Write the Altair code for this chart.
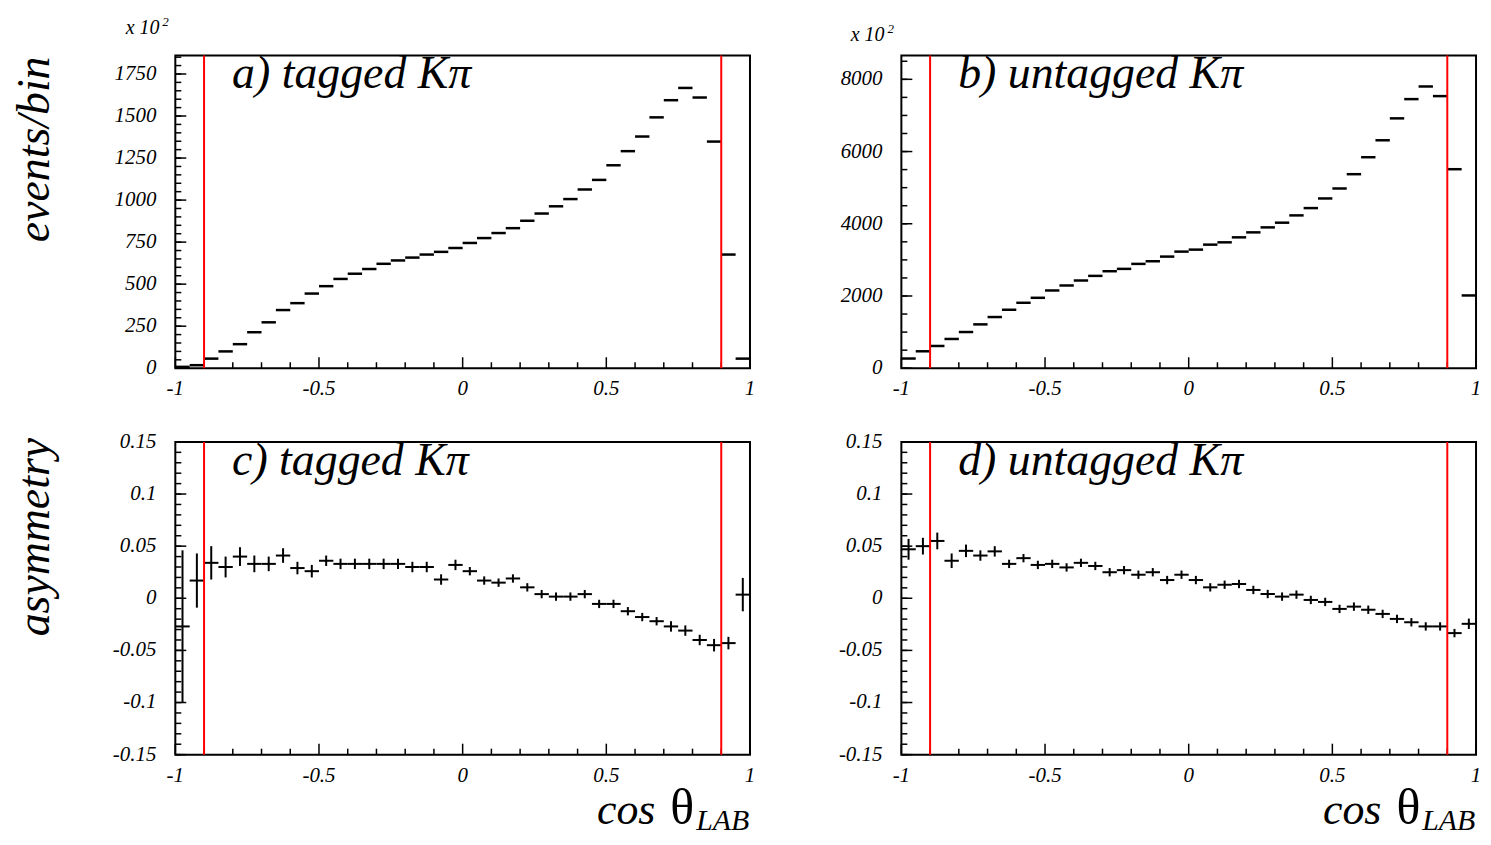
import altair as alt
import numpy as np
import pandas as pd

# ---------------- data ----------------
bin_edges = np.round(np.linspace(-1.0, 1.0, 41), 4)   # 40 bins of cos(theta_LAB)
bin_lo = bin_edges[:-1]
bin_hi = bin_edges[1:]
bin_mid = np.round((bin_lo + bin_hi) / 2, 4)

tagged_counts = [8, 18, 57, 100, 143, 214, 273, 346, 387, 444, 488, 531, 562, 590,
                 621, 641, 658, 676, 692, 715, 745, 774, 804, 833, 877, 920, 963,
                 1006, 1063, 1120, 1207, 1291, 1378, 1492, 1594, 1667, 1610, 1348,
                 676, 57]
untagged_counts = [268, 469, 616, 810, 1002, 1214, 1417, 1619, 1812, 1950, 2153,
                   2291, 2429, 2557, 2686, 2751, 2889, 2962, 3091, 3229, 3284, 3422,
                   3486, 3624, 3762, 3900, 4030, 4232, 4434, 4701, 4977, 5373, 5843,
                   6312, 6919, 7452, 7802, 7535, 5511, 2015]

tagged_asym = [-0.027, 0.017, 0.034, 0.030, 0.040, 0.033, 0.033, 0.041, 0.029, 0.026,
               0.036, 0.033, 0.033, 0.033, 0.033, 0.033, 0.030, 0.030, 0.018, 0.032,
               0.026, 0.017, 0.015, 0.019, 0.0105, 0.004, 0.0016, 0.0016, 0.004,
               -0.0054, -0.0054, -0.0124, -0.018, -0.022, -0.027, -0.031, -0.040,
               -0.045, -0.043, 0.0035]
tagged_err = [0.073, 0.026, 0.016, 0.010, 0.009, 0.008, 0.007, 0.007, 0.006, 0.006,
              0.005, 0.005, 0.005, 0.005, 0.005, 0.005, 0.005, 0.005, 0.005, 0.005,
              0.004, 0.004, 0.004, 0.004, 0.004, 0.004, 0.004, 0.004, 0.004, 0.004,
              0.004, 0.004, 0.004, 0.004, 0.005, 0.005, 0.005, 0.006, 0.006, 0.016]

untagged_asym = [0.047, 0.050, 0.055, 0.036, 0.0455, 0.041, 0.045, 0.033, 0.0385,
                 0.032, 0.033, 0.0296, 0.034, 0.031, 0.025, 0.027, 0.0226, 0.025,
                 0.0175, 0.0226, 0.0175, 0.0105, 0.013, 0.0137, 0.008, 0.0041, 0.0016,
                 0.0035, -0.0016, -0.0035, -0.0102, -0.008, -0.011, -0.015, -0.0198,
                 -0.023, -0.027, -0.027, -0.0334, -0.0245]
untagged_err = [0.010, 0.008, 0.008, 0.007, 0.006, 0.005, 0.005, 0.004, 0.004, 0.004,
                0.004, 0.004, 0.004, 0.004, 0.004, 0.004, 0.004, 0.004, 0.004, 0.004,
                0.004, 0.004, 0.004, 0.004, 0.004, 0.004, 0.004, 0.004, 0.004, 0.004,
                0.004, 0.004, 0.004, 0.004, 0.004, 0.004, 0.004, 0.004, 0.004, 0.005]

cuts = [-0.9, 0.9]

# tick values and tick labels
x_major = [-1, -0.5, 0, 0.5, 1]
x_labels = ["-1", "-0.5", "0", "0.5", "1"]
x_minor = [-0.9, -0.8, -0.7, -0.6, -0.4, -0.3, -0.2, -0.1,
           0.1, 0.2, 0.3, 0.4, 0.6, 0.7, 0.8, 0.9]
ya_major = [0, 250, 500, 750, 1000, 1250, 1500, 1750]
ya_labels = ["0", "250", "500", "750", "1000", "1250", "1500", "1750"]
ya_minor = list(range(0, 1851, 50))
yb_major = [0, 2000, 4000, 6000, 8000]
yb_labels = ["0", "2000", "4000", "6000", "8000"]
yb_minor = list(range(0, 8601, 500))
yc_major = [-0.15, -0.1, -0.05, 0, 0.05, 0.1, 0.15]
yc_labels = ["-0.15", "-0.1", "-0.05", "0", "0.05", "0.1", "0.15"]
yc_minor = [round(v, 2) for v in np.arange(-0.15, 0.1501, 0.01)]

# ---------------- styling ----------------
FONT = "Liberation Serif"
W, H = 577, 314
MAJ, MIN = 11, 6
LBL = 21
xs = alt.Scale(domain=[-1, 1], nice=False, zero=False)


def txt(s, x, y, size, align="left", baseline="alphabetic", italic=True, angle=0):
    kw = dict(align=align, baseline=baseline, font=FONT, fontSize=size,
              color="black")
    if italic:
        kw["fontStyle"] = "italic"
    if angle:
        kw["angle"] = angle
    return alt.Chart(pd.DataFrame({"t": [s]})).mark_text(**kw).encode(
        x=alt.value(x), y=alt.value(y), text="t:N")


def panel(kind, values, errors, ydomain, ymajor, ylabels, yminor, label, ytitle,
          title_y, exp_pos, xlabel):
    ys = alt.Scale(domain=ydomain, nice=False, zero=False)
    df = pd.DataFrame({"lo": bin_lo, "hi": bin_hi, "c": bin_mid, "v": values})
    layers = []
    if kind == "hist":
        layers.append(alt.Chart(df).mark_rule(color="black", strokeWidth=2.5).encode(
            x=alt.X("lo:Q", scale=xs, axis=None),
            x2="hi:Q",
            y=alt.Y("v:Q", scale=ys, axis=None),
        ))
    else:
        df["e"] = errors
        df["elo"] = df["v"] - df["e"]
        df["ehi"] = df["v"] + df["e"]
        layers.append(alt.Chart(df).mark_rule(color="black", strokeWidth=2).encode(
            x=alt.X("lo:Q", scale=xs, axis=None),
            x2="hi:Q",
            y=alt.Y("v:Q", scale=ys, axis=None),
        ))
        layers.append(alt.Chart(df).mark_rule(color="black", strokeWidth=2).encode(
            x=alt.X("c:Q", scale=xs, axis=None),
            y=alt.Y("elo:Q", scale=ys, axis=None),
            y2="ehi:Q",
        ))

    # inward ticks (ROOT style)
    layers.append(alt.Chart(pd.DataFrame({"t": x_major})).mark_rule(
        color="black", strokeWidth=1.5).encode(
        x=alt.X("t:Q", scale=xs, axis=None), y=alt.value(H), y2=alt.value(H - MAJ)))
    layers.append(alt.Chart(pd.DataFrame({"t": x_minor})).mark_rule(
        color="black", strokeWidth=1.5).encode(
        x=alt.X("t:Q", scale=xs, axis=None), y=alt.value(H), y2=alt.value(H - MIN)))
    layers.append(alt.Chart(pd.DataFrame({"t": ymajor})).mark_rule(
        color="black", strokeWidth=1.5).encode(
        y=alt.Y("t:Q", scale=ys, axis=None), x=alt.value(0), x2=alt.value(MAJ)))
    layers.append(alt.Chart(pd.DataFrame({"t": yminor})).mark_rule(
        color="black", strokeWidth=1.5).encode(
        y=alt.Y("t:Q", scale=ys, axis=None), x=alt.value(0), x2=alt.value(MIN)))

    # tick labels
    layers.append(alt.Chart(pd.DataFrame({"t": x_major, "s": x_labels})).mark_text(
        align="center", baseline="top", font=FONT, fontStyle="italic",
        fontSize=LBL, color="black").encode(
        x=alt.X("t:Q", scale=xs, axis=None), y=alt.value(H + 10), text="s:N"))
    layers.append(alt.Chart(pd.DataFrame({"t": ymajor, "s": ylabels})).mark_text(
        align="right", baseline="middle", font=FONT, fontStyle="italic",
        fontSize=LBL, color="black").encode(
        y=alt.Y("t:Q", scale=ys, axis=None), x=alt.value(-19), text="s:N"))

    # selection cuts
    layers.append(alt.Chart(pd.DataFrame({"cut": cuts})).mark_rule(
        color="#ff0000", strokeWidth=2).encode(x=alt.X("cut:Q", scale=xs, axis=None)))

    layers.append(txt(label, 57, 33, 46))

    if ytitle:
        layers.append(txt(ytitle, -127, title_y, 46, align="right", angle=270))

    if exp_pos is not None:
        ex, ey = exp_pos
        layers.append(txt("x 10", ex, ey, 20, align="right"))
        layers.append(txt("2", ex + 3, ey - 8, 13))

    if xlabel:
        layers.append(txt("cos", W - 95, H + 70, 44, align="right"))
        layers.append(txt("\u03b8", W - 56, H + 70, 50, align="right", italic=False))
        layers.append(txt("LAB", W - 54, H + 76, 30, align="left"))

    return alt.layer(*layers).properties(width=W, height=H)


pa = panel("hist", tagged_counts, None, [0, 1860], ya_major, ya_labels, ya_minor,
           "a) tagged K\u03c0", "events/bin", 1, (-16, -22), False)
pb = panel("hist", untagged_counts, None, [0, 8660], yb_major, yb_labels, yb_minor,
           "b) untagged K\u03c0", None, 0, (-17, -15), False)
pc = panel("asym", tagged_asym, tagged_err, [-0.15, 0.15], yc_major, yc_labels,
           yc_minor, "c) tagged K\u03c0", "asymmetry", -4, None, True)
pd_ = panel("asym", untagged_asym, untagged_err, [-0.15, 0.15], yc_major, yc_labels,
            yc_minor, "d) untagged K\u03c0", None, 0, None, True)

top = alt.hconcat(pa, pb, spacing=83)
bottom = alt.hconcat(pc, pd_, spacing=81)
chart = alt.vconcat(top, bottom, spacing=30).properties(
    padding={"left": 3, "top": 5, "right": 0, "bottom": -4},
    background="white",
).configure_view(stroke="black", strokeWidth=2)

chart.save("out.html", embed_options={"renderer": "svg", "actions": False})
